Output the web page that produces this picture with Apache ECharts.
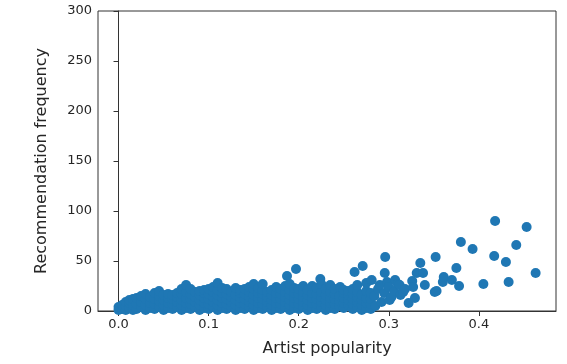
<!DOCTYPE html>
<html>
<head>
<meta charset="utf-8">
<script src="https://cdn.jsdelivr.net/npm/echarts@6/dist/echarts.min.js"></script>
<style>html,body{margin:0;padding:0;background:#fff}#c{width:567px;height:364px}</style>
</head>
<body>
<div id="c"></div>
<script>
// dense cluster of points (artist popularity, recommendation frequency)
var blobPoints = [
[0.000,1],[0.000,4],[0.004,2],[0.004,6],[0.008,1],[0.008,5],[0.008,9],
[0.012,3],[0.012,8],[0.012,11],[0.016,1],[0.016,6],[0.016,12],
[0.020,2],[0.020,7],[0.020,13],[0.025,4],[0.025,9],[0.025,15],
[0.030,1],[0.030,6],[0.030,12],[0.030,17],[0.035,3],[0.035,8],[0.035,14],
[0.040,2],[0.040,7],[0.040,12],[0.040,18],[0.045,4],[0.045,10],[0.045,15],[0.045,20],
[0.050,1],[0.050,6],[0.050,11],[0.050,16],[0.055,3],[0.055,8],[0.055,13],[0.055,17],
[0.060,2],[0.060,7],[0.060,12],[0.060,16],[0.065,4],[0.065,9],[0.065,14],[0.065,18],
[0.070,1],[0.070,6],[0.070,11],[0.070,17],[0.070,22],[0.075,3],[0.075,8],[0.075,13],[0.075,19],[0.075,26],
[0.080,2],[0.080,7],[0.080,12],[0.080,17],[0.080,22],[0.085,4],[0.085,9],[0.085,14],[0.085,19],
[0.090,1],[0.090,6],[0.090,11],[0.090,16],[0.090,20],[0.095,3],[0.095,8],[0.095,13],[0.095,18],[0.095,21],
[0.100,2],[0.100,7],[0.100,12],[0.100,17],[0.100,22],[0.105,4],[0.105,9],[0.105,14],[0.105,19],[0.105,24],
[0.110,1],[0.110,6],[0.110,11],[0.110,16],[0.110,21],[0.110,28],[0.115,3],[0.115,8],[0.115,13],[0.115,18],[0.115,23],
[0.120,2],[0.120,7],[0.120,12],[0.120,17],[0.120,22],[0.125,4],[0.125,9],[0.125,14],[0.125,19],
[0.130,1],[0.130,6],[0.130,11],[0.130,16],[0.130,23],[0.135,3],[0.135,8],[0.135,13],[0.135,18],[0.135,21],
[0.140,2],[0.140,7],[0.140,12],[0.140,17],[0.140,22],[0.145,4],[0.145,9],[0.145,14],[0.145,19],[0.145,24],
[0.150,1],[0.150,6],[0.150,11],[0.150,16],[0.150,22],[0.150,27],[0.155,3],[0.155,8],[0.155,13],[0.155,18],[0.155,23],
[0.160,2],[0.160,7],[0.160,12],[0.160,17],[0.160,21],[0.160,27],[0.165,4],[0.165,9],[0.165,14],[0.165,19],
[0.170,1],[0.170,6],[0.170,11],[0.170,16],[0.170,21],[0.175,3],[0.175,8],[0.175,13],[0.175,18],[0.175,24],
[0.180,2],[0.180,7],[0.180,12],[0.180,17],[0.180,22],[0.185,4],[0.185,9],[0.185,14],[0.185,19],[0.185,25],[0.187,35],
[0.190,1],[0.190,6],[0.190,11],[0.190,16],[0.190,21],[0.190,27],[0.195,3],[0.195,8],[0.195,13],[0.195,18],[0.195,23],[0.197,42],
[0.200,2],[0.200,7],[0.200,12],[0.200,17],[0.200,22],[0.205,4],[0.205,9],[0.205,14],[0.205,19],[0.205,25],
[0.210,1],[0.210,6],[0.210,11],[0.210,16],[0.210,21],[0.215,3],[0.215,8],[0.215,13],[0.215,18],[0.215,25],
[0.220,2],[0.220,7],[0.220,12],[0.220,17],[0.220,23],[0.224,32],[0.225,4],[0.225,9],[0.225,14],[0.225,19],[0.225,27],
[0.230,1],[0.230,6],[0.230,11],[0.230,16],[0.230,22],[0.235,3],[0.235,8],[0.235,13],[0.235,19],[0.235,26],
[0.240,2],[0.240,7],[0.240,12],[0.240,17],[0.240,22],[0.245,5],[0.245,10],[0.245,15],[0.246,24],
[0.250,3],[0.250,8],[0.250,13],[0.250,18],[0.250,21],[0.255,6],[0.255,11],[0.255,16],[0.255,20],
[0.260,2],[0.260,7],[0.260,12],[0.260,17],[0.260,22],[0.262,39],[0.265,4],[0.265,9],[0.265,14],[0.265,19],[0.265,26],
[0.270,1],[0.270,6],[0.270,11],[0.270,16],[0.271,45],[0.275,3],[0.275,8],[0.275,13],[0.275,20],[0.275,28],
[0.280,2],[0.280,7],[0.280,12],[0.280,18],[0.281,31]
];
// scattered points toward higher popularity
var sparsePoints = [
[0.284,15],[0.285,5],[0.288,22],[0.290,26],[0.292,9],[0.295,18],[0.2955,38],[0.296,54],
[0.298,29],[0.300,24],[0.301,11],[0.303,14],[0.306,20],[0.307,31],[0.310,27],[0.312,26],
[0.313,16],[0.316,19],[0.318,22],[0.322,8],[0.326,30],[0.327,24],[0.329,13],[0.331,38],
[0.335,48],[0.338,38],[0.340,26],[0.351,19],[0.352,54],[0.353,20],[0.360,29],[0.361,34],
[0.370,31],[0.375,43],[0.378,25],[0.380,69],[0.393,62],[0.405,27],[0.417,55],[0.418,90],
[0.430,49],[0.433,29],[0.4415,66],[0.453,84],[0.463,38]
];
var xTicks = [0.0, 0.1, 0.2, 0.3, 0.4];
var xName = 'Artist popularity';
var yName = 'Recommendation frequency';

var chart = echarts.init(document.getElementById('c'), null, {renderer: 'canvas'});
var txt = '#262626';
chart.setOption({
  animation: false,
  grid: {left: 98, right: 11, top: 11, bottom: 53, show: true, borderColor: '#333', borderWidth: 1, backgroundColor: 'transparent'},
  xAxis: {
    type: 'value', min: -0.0228, max: 0.4856,
    name: xName, nameLocation: 'middle', nameGap: 30,
    nameTextStyle: {fontFamily: 'DejaVu Sans', fontSize: 16, color: txt},
    axisLine: {show: true, onZero: false, lineStyle: {color: '#333'}},
    axisTick: {show: true, length: 5, customValues: xTicks, lineStyle: {color: '#333'}},
    axisLabel: {customValues: xTicks, formatter: function (v) { return v.toFixed(1); }, fontFamily: 'DejaVu Sans', fontSize: 13, color: txt, margin: 7},
    splitLine: {show: false}
  },
  yAxis: {
    type: 'value', min: 0, max: 300, interval: 50,
    name: yName, nameLocation: 'middle', nameGap: 48,
    nameTextStyle: {fontFamily: 'DejaVu Sans', fontSize: 16, color: txt},
    axisLine: {show: true, lineStyle: {color: '#333'}},
    axisTick: {show: true, length: 5, lineStyle: {color: '#333'}},
    axisLabel: {fontFamily: 'DejaVu Sans', fontSize: 13, color: txt, margin: 6},
    splitLine: {show: false}
  },
  series: [{
    type: 'scatter', symbolSize: 10, clip: true,
    itemStyle: {color: '#1f77b4', opacity: 1},
    data: blobPoints.concat(sparsePoints)
  }]
});
</script>
</body>
</html>
